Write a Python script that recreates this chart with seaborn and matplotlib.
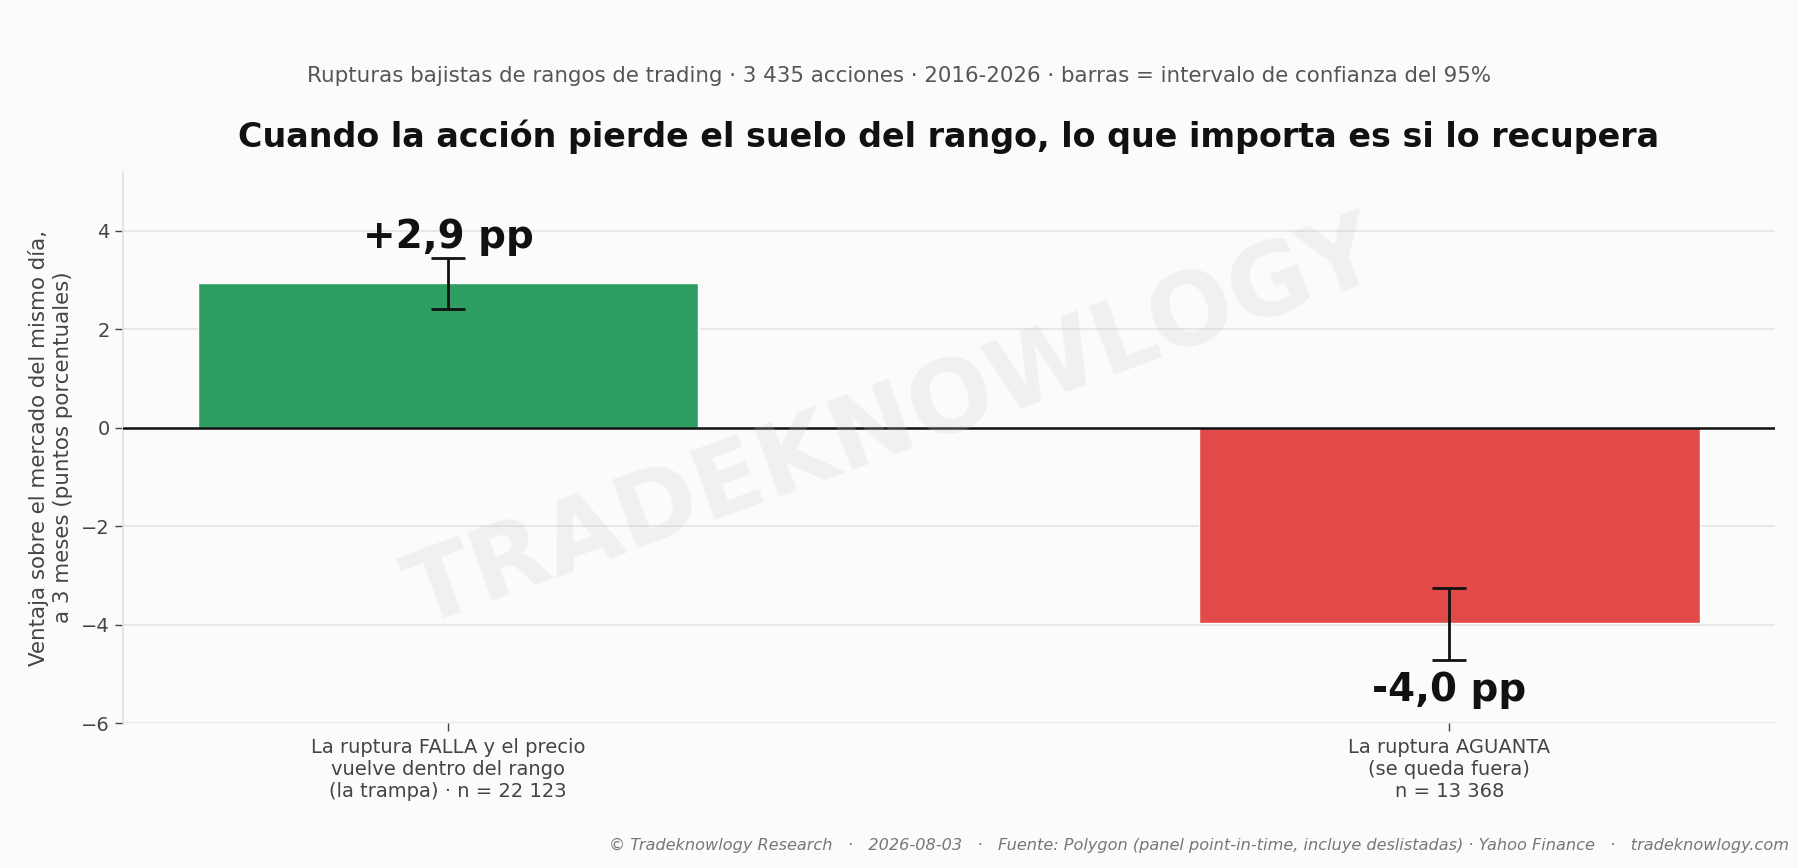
import numpy as np
import pandas as pd
import matplotlib
matplotlib.use("Agg")
import matplotlib.pyplot as plt
import seaborn as sns

# datos
categorias = ["La ruptura FALLA y el precio\nvuelve dentro del rango\n(la trampa) · n = 22 123",
              "La ruptura AGUANTA\n(se queda fuera)\nn = 13 368"]
ventaja = [2.95, -3.97]
ic_bajo = [2.42, -4.72]
ic_alto = [3.45, -3.25]
etiquetas = ["+2,9 pp", "-4,0 pp"]
colores = ["#2e9e62", "#e24a4a"]

sns.set_theme(style="whitegrid")
plt.rcParams['font.family'] = ['DejaVu Sans']
plt.rcParams['axes.unicode_minus'] = True

bg = "#fbfbf9"
fig = plt.figure(figsize=(17.98, 8.68), dpi=100, facecolor=bg)
ax = fig.add_axes([0.0683, 0.1665, 0.9187, 0.6355])
ax.set_facecolor(bg)

df = pd.DataFrame({"cat": categorias, "val": ventaja})
sns.barplot(data=df, x="cat", y="val", hue="cat", palette=colores, saturation=1,
            width=0.5, legend=False, errorbar=None, ax=ax, zorder=2)

x = np.arange(len(ventaja))
err = [np.array(ventaja) - np.array(ic_bajo), np.array(ic_alto) - np.array(ventaja)]
ax.errorbar(x, ventaja, yerr=err, fmt="none", ecolor="#111111",
            elinewidth=2, capsize=12, capthick=2, zorder=4)

# etiquetas de valor
for i, (v, t) in enumerate(zip(ventaja, etiquetas)):
    if v >= 0:
        ax.text(i, ic_alto[i] + 0.04, t, ha="center", va="bottom",
                fontsize=28, fontweight="bold", color="#111111", zorder=5)
    else:
        ax.text(i, ic_bajo[i] - 0.22, t, ha="center", va="top",
                fontsize=28, fontweight="bold", color="#111111", zorder=5)

ax.axhline(0, color="#111111", lw=1.8, zorder=3)
ax.set_xlim(-0.325, 1.325)
ax.set_ylim(-6, 5.2)
ax.set_yticks([-6, -4, -2, 0, 2, 4])
ax.grid(axis="y", color="#e4e4e2", lw=1.2, zorder=0)
ax.grid(axis="x", visible=False)
for s in ["top", "right", "bottom"]:
    ax.spines[s].set_visible(False)
ax.spines["left"].set_color("#e2e2e0")
ax.tick_params(axis="both", colors="#444444", labelsize=14, length=6,
               width=1, direction="out", left=True, bottom=True)
ax.tick_params(axis="x", pad=4.5)
ax.set_xlabel("")
ax.set_ylabel("Ventaja sobre el mercado del mismo día,\na 3 meses (puntos porcentuales)",
              fontsize=15.4, color="#444444", labelpad=6)

ax.set_title("Cuando la acción pierde el suelo del rango, lo que importa es si lo recupera",
             fontsize=24, fontweight="bold", color="#111111", pad=18)
fig.text(0.5, 0.913, "Rupturas bajistas de rangos de trading · 3 435 acciones · 2016-2026 · barras = intervalo de confianza del 95%",
         ha="center", va="center", fontsize=15.4, color="#555555")

# marca de agua
fig.text(0.497, 0.51, "TRADEKNOWLOGY", ha="center", va="center",
         fontsize=72, fontweight="bold", color="#cccccc", alpha=0.22, rotation=20, zorder=1)

fig.text(0.995, 0.017, "© Tradeknowlogy Research   ·   2026-08-03   ·   Fuente: Polygon (panel point-in-time, incluye deslistadas) · Yahoo Finance   ·   tradeknowlogy.com",
         ha="right", va="bottom", fontsize=11.6, style="italic", color="#777777")

fig.savefig("out.png", dpi=100, facecolor=bg)
